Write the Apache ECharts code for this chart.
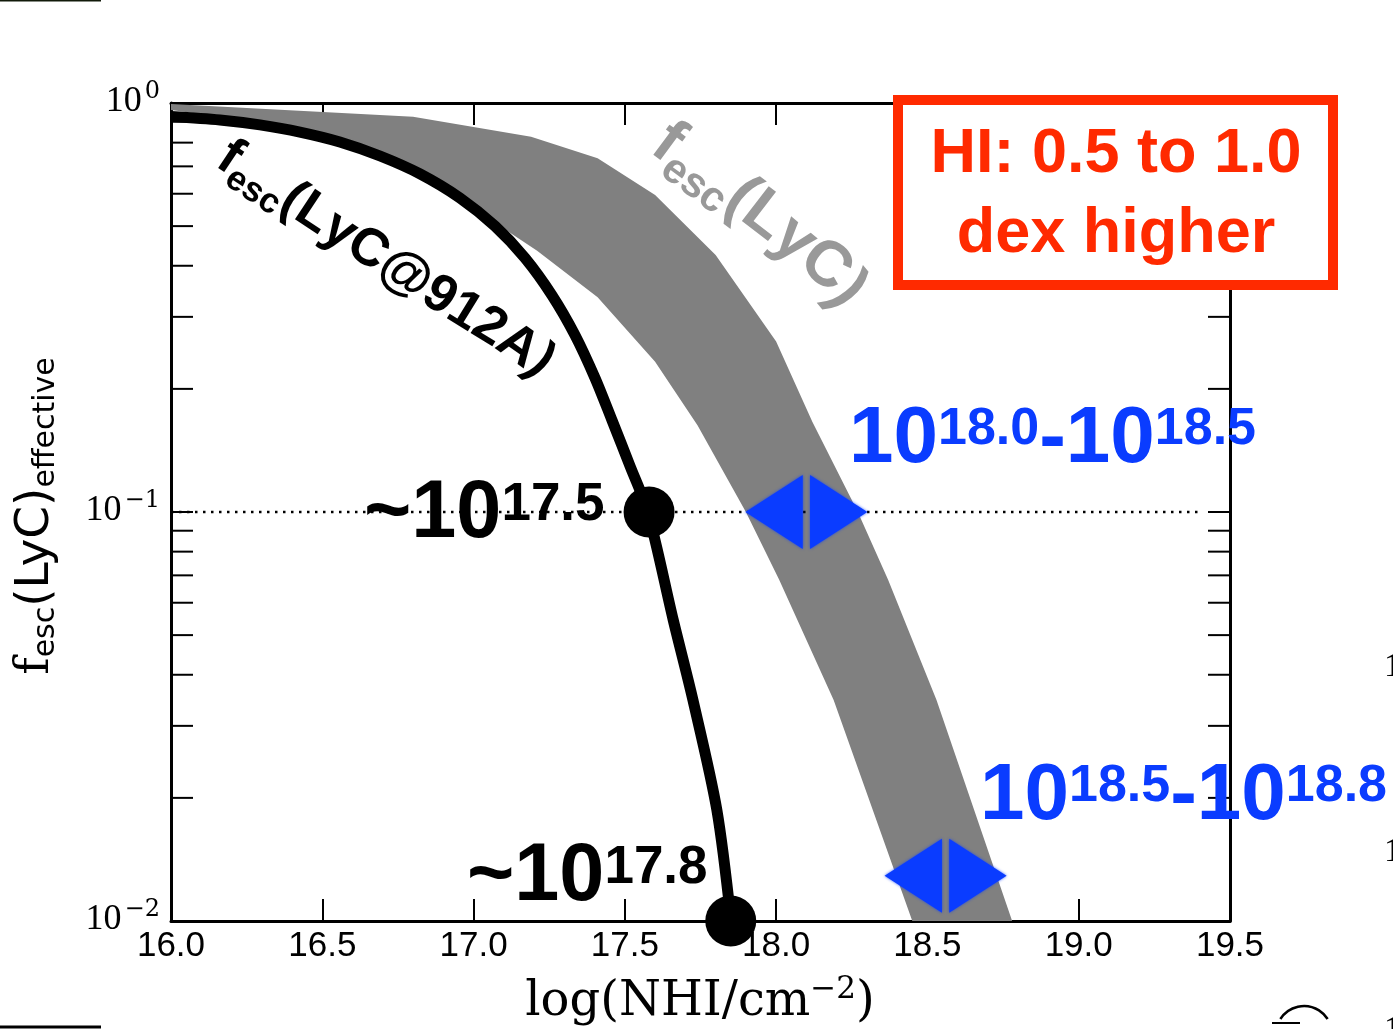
<!DOCTYPE html>
<html>
<head>
<meta charset="utf-8">
<script src="https://cdn.jsdelivr.net/npm/echarts@6/dist/echarts.min.js"></script>
<style>
  html, body { margin: 0; padding: 0; background: #ffffff; }
  #chart { width: 1393px; height: 1029px; }
</style>
</head>
<body>
<div id="chart"></div>
<script>
// Effective LyC escape fraction versus HI column density

// x axis: log10(N_HI / cm^-2)
const xTicks = [16.0, 16.5, 17.0, 17.5, 18.0, 18.5, 19.0, 19.5];
// y axis: labelled decades and all tick marks
const yDecades = [0.01, 0.1, 1];
const yTickMarks = [0.01, 0.02, 0.03, 0.04, 0.05, 0.06, 0.07, 0.08, 0.09,
                    0.1, 0.2, 0.3, 0.4, 0.5, 0.6, 0.7, 0.8, 0.9, 1];

// f_esc(LyC@912A)
const lyc912X = [16.000, 16.162, 16.294, 16.426, 16.558, 16.691, 16.823, 16.955, 17.071, 17.170,
                 17.259, 17.335, 17.401, 17.457, 17.517, 17.576, 17.660, 17.725, 17.804, 17.851];
const lyc912Y = [0.927, 0.909, 0.884, 0.849, 0.803, 0.742, 0.671, 0.586, 0.500, 0.418,
                 0.339, 0.271, 0.213, 0.168, 0.1296, 0.100, 0.0544, 0.0347, 0.0187, 0.010];

// f_esc(LyC) band: upper and lower envelopes
const bandUpperX = [16.00, 16.80, 17.19, 17.41, 17.60, 17.80, 18.00, 18.12, 18.27, 18.37, 18.53, 18.78];
const bandUpperY = [0.995, 0.926, 0.827, 0.733, 0.596, 0.425, 0.261, 0.166, 0.100, 0.0683, 0.0347, 0.010];
const bandLowerX = [16.00, 16.42, 16.65, 16.81, 16.89, 17.00, 17.21, 17.41, 17.60, 17.74, 17.90, 18.01, 18.19, 18.45];
const bandLowerY = [0.961, 0.874, 0.781, 0.694, 0.630, 0.552, 0.435, 0.335, 0.233, 0.163, 0.100, 0.0683, 0.0347, 0.010];

// column densities where f_esc(912A) drops to 10% and 1%
const markX = [17.58, 17.85];
const markY = [0.1, 0.01];
// the same escape fractions reached on the LyC band
const bandMarkX = [18.10, 18.56];
const bandMarkY = [0.1, 0.0129];

// 10% reference level
const refLevel = 0.1;
const refSpan = [16.0, 19.41];

const pairs = (xs, ys) => xs.map((x, i) => [x, ys[i]]);

// ---- text layout helpers ----
const mctx = document.createElement('canvas').getContext('2d');
function textWidth(t, font) { mctx.font = font; return mctx.measureText(t).width; }
function fontOf(s) { return (s.weight || 'normal') + ' ' + s.size + 'px ' + s.family; }

// a row of text pieces; rise moves a piece's middle upward
function textRow(x0, yc, segs, color, align) {
  const widths = segs.map(s => textWidth(s.t, fontOf(s)));
  const total = widths.reduce((a, b) => a + b, 0);
  let x = align === 'center' ? x0 - total / 2 : x0;
  const out = [];
  segs.forEach((s, i) => {
    out.push({
      type: 'text', silent: true, z: 20,
      x: x, y: yc - (s.rise || 0),
      style: { text: s.t, font: fontOf(s), fill: s.color || color, align: 'left', verticalAlign: 'middle' }
    });
    x += widths[i];
  });
  return out;
}

// power-of-ten annotation, exponent tops aligned with the digit tops
function powerLabel(x0, yc, parts, big, sup, color) {
  const segs = parts.map(p => p.sup
    ? { t: p.t, size: sup, family: '"Liberation Sans"', weight: 'bold', rise: 0.358 * (big - sup) }
    : { t: p.t, size: big, family: '"Liberation Sans"', weight: 'bold', rise: 0 });
  return textRow(x0, yc, segs, color, 'left');
}

// characters placed one by one along a polyline (text middle on the path)
function curvedText(path, start, pieces, color) {
  const cum = [0];
  for (let i = 1; i < path.length; i++) {
    cum.push(cum[i - 1] + Math.hypot(path[i][0] - path[i - 1][0], path[i][1] - path[i - 1][1]));
  }
  function at(s) {
    let i = 1;
    while (i < path.length - 1 && cum[i] < s) i++;
    const a = path[i - 1], b = path[i];
    const t = (s - cum[i - 1]) / (cum[i] - cum[i - 1]);
    return { x: a[0] + (b[0] - a[0]) * t, y: a[1] + (b[1] - a[1]) * t, ang: Math.atan2(b[1] - a[1], b[0] - a[0]) };
  }
  const out = [];
  let s = start;
  pieces.forEach(p => {
    const font = 'bold ' + p.size + 'px "Liberation Sans"';
    for (const ch of p.t) {
      const w = textWidth(ch, font);
      const q = at(s + w / 2);
      out.push({
        type: 'text', silent: true, z: 20,
        x: q.x, y: q.y, rotation: -q.ang,
        style: { text: ch, x: 0, y: p.dy || 0, font: font, fill: color, align: 'center', verticalAlign: 'middle' }
      });
      s += w;
    }
  });
  return out;
}

const chart = echarts.init(document.getElementById('chart'), null, { renderer: 'canvas', width: 1393, height: 1029 });

const xAxisBase = {
  type: 'value',
  min: xTicks[0],
  max: xTicks[xTicks.length - 1],
  interval: xTicks[1] - xTicks[0],
  axisLine: { show: true, onZero: false, lineStyle: { color: '#000', width: 3 } },
  axisTick: { show: true, inside: true, length: 22, lineStyle: { color: '#000', width: 2 } },
  splitLine: { show: false }
};
const yAxisBase = {
  type: 'log',
  logBase: 10,
  min: yDecades[0],
  max: yDecades[yDecades.length - 1],
  axisLine: { show: true, onZero: false, lineStyle: { color: '#000', width: 3 } },
  axisTick: { show: false },
  axisLabel: { show: false },
  splitLine: { show: false },
  minorTick: { show: false }
};

const graphics = [];

// blue column-density ranges
graphics.push(...powerLabel(849, 440, [{ t: '10' }, { t: '18.0', sup: true }, { t: '-' }, { t: '10' }, { t: '18.5', sup: true }], 80, 52, '#0a3cff'));
graphics.push(...powerLabel(980, 797, [{ t: '10' }, { t: '18.5', sup: true }, { t: '-' }, { t: '10' }, { t: '18.8', sup: true }], 80, 52, '#0a3cff'));
// black single values
graphics.push(...powerLabel(364, 515, [{ t: '~' }, { t: '10' }, { t: '17.5', sup: true }], 81, 53, '#000'));
graphics.push(...powerLabel(467, 878, [{ t: '~' }, { t: '10' }, { t: '17.8', sup: true }], 81, 53, '#000'));

// curve labels
graphics.push(...curvedText(
  [[222, 153], [300, 205], [380, 258], [445, 300], [500, 334], [540, 362], [565, 385]], 0,
  [{ t: 'f', size: 53 }, { t: 'esc', size: 35, dy: 15 }, { t: '(LyC@912A)', size: 53 }], '#000'));
graphics.push(...curvedText(
  [[659, 137], [720, 182], [780, 228], [830, 270], [866, 314], [884, 345]], 0,
  [{ t: 'f', size: 64 }, { t: 'esc', size: 42, dy: 18 }, { t: '(LyC)', size: 64 }], '#999999'));

// boxed note
graphics.push({
  type: 'rect', silent: true, z: 50,
  shape: { x: 898, y: 100, width: 435, height: 185 },
  style: { fill: '#ffffff', stroke: '#ff2a00', lineWidth: 10 }
});
graphics.push({
  type: 'text', silent: true, z: 51, x: 1116, y: 195,
  style: { text: 'HI: 0.5 to 1.0\ndex higher', font: 'bold 63px "Liberation Sans"', fill: '#ff2a00',
           align: 'center', verticalAlign: 'middle', lineHeight: 80 }
});

// x axis title
graphics.push(...textRow(700, 1003, [
  { t: 'log(NHI/cm', size: 48, family: '"DejaVu Serif"' },
  { t: '\u22122', size: 31, family: '"DejaVu Serif"', rise: 13 },
  { t: ')', size: 48, family: '"DejaVu Serif"' }
], '#000', 'center'));

// y axis title (rotated)
graphics.push({
  type: 'group', silent: true, x: 36, y: 516, rotation: Math.PI / 2,
  children: textRow(0, 0, [
    { t: 'f', size: 47, family: '"DejaVu Serif"' },
    { t: 'esc', size: 30, family: '"DejaVu Sans"', rise: -10 },
    { t: '(LyC)', size: 47, family: '"DejaVu Sans"' },
    { t: 'effective', size: 30, family: '"DejaVu Sans"', rise: -10 }
  ], '#000', 'center')
});

// neighbouring panel edges
graphics.push({ type: 'line', silent: true, shape: { x1: 0, y1: 0.5, x2: 101, y2: 0.5 }, style: { stroke: '#111a0a', lineWidth: 2 } });
graphics.push({ type: 'line', silent: true, shape: { x1: 0, y1: 1027, x2: 101, y2: 1027 }, style: { stroke: '#000', lineWidth: 3 } });
[667, 852, 1030].forEach(y => graphics.push({
  type: 'text', silent: true, x: 1384, y: y,
  style: { text: '1', font: '34px "Liberation Serif"', fill: '#000', align: 'left', verticalAlign: 'middle' }
}));
graphics.push({ type: 'arc', silent: true, shape: { cx: 1304, cy: 1034, r: 28, startAngle: -Math.PI * 0.82, endAngle: -Math.PI * 0.18 },
  style: { stroke: '#000', lineWidth: 2.5, fill: null } });
graphics.push({ type: 'line', silent: true, shape: { x1: 1272, y1: 1023, x2: 1300, y2: 1023 }, style: { stroke: '#000', lineWidth: 2 } });

const baseFont = '36px "Liberation Serif"';
const expFont = '24px "DejaVu Serif"';

chart.setOption({
  animation: false,
  backgroundColor: '#ffffff',
  grid: { left: 171, top: 103, right: 163, bottom: 108, containLabel: false },
  xAxis: [
    Object.assign({}, xAxisBase, {
      position: 'bottom',
      axisLabel: { show: true, color: '#000', fontSize: 35, fontFamily: '"Liberation Sans"', margin: 8,
                   showMinLabel: true, showMaxLabel: true, formatter: v => v.toFixed(1) }
    }),
    Object.assign({}, xAxisBase, { position: 'top', axisLabel: { show: false } })
  ],
  yAxis: [
    Object.assign({}, yAxisBase, { position: 'left' }),
    Object.assign({}, yAxisBase, { position: 'right' })
  ],
  series: [
    {
      // LyC band
      type: 'custom', silent: true, z: 1, clip: true,
      data: [[bandUpperX[0], bandUpperY[0]]],
      renderItem: function (params, api) {
        const pts = [];
        for (let i = 0; i < bandUpperX.length; i++) pts.push(api.coord([bandUpperX[i], bandUpperY[i]]));
        for (let i = bandLowerX.length - 1; i >= 0; i--) pts.push(api.coord([bandLowerX[i], bandLowerY[i]]));
        return { type: 'polygon', shape: { points: pts }, style: { fill: '#808080' } };
      }
    },
    {
      // 10% reference level
      type: 'line', silent: true, z: 2, symbol: 'none',
      data: [[refSpan[0], refLevel], [refSpan[1], refLevel]],
      lineStyle: { color: '#000', width: 2.5, type: [2.5, 5.5] }
    },
    {
      // f_esc(LyC@912A)
      type: 'line', silent: true, z: 3, symbol: 'none', smooth: 0.3,
      data: pairs(lyc912X, lyc912Y),
      lineStyle: { color: '#000', width: 11, cap: 'butt', join: 'round' }
    },
    {
      type: 'scatter', silent: true, z: 4, clip: false,
      symbol: 'path://M0,50L47,0L47,100ZM53,0L100,50L53,100Z',
      symbolSize: [122, 74],
      itemStyle: { color: '#0a3cff', opacity: 1, shadowBlur: 3, shadowColor: 'rgba(10,60,255,0.8)' },
      data: pairs(bandMarkX, bandMarkY)
    },
    {
      type: 'scatter', silent: true, z: 5, clip: false,
      symbol: 'circle', symbolSize: 51,
      itemStyle: { color: '#000', opacity: 1 },
      data: pairs(markX, markY)
    },
    {
      // y ticks inside on both sides, with 10^n labels at the decades
      type: 'custom', silent: true, z: 6, clip: false,
      data: yTickMarks.map(v => [xTicks[0], v]),
      renderItem: function (params, api) {
        const v = api.value(1);
        const L = api.coord([xTicks[0], v]);
        const R = api.coord([xTicks[xTicks.length - 1], v]);
        const children = [
          { type: 'line', shape: { x1: L[0], y1: L[1], x2: L[0] + 22, y2: L[1] }, style: { stroke: '#000', lineWidth: 2 } },
          { type: 'line', shape: { x1: R[0], y1: R[1], x2: R[0] - 22, y2: R[1] }, style: { stroke: '#000', lineWidth: 2 } }
        ];
        const isDecade = yDecades.some(d => Math.abs(d - v) < 1e-9);
        if (isDecade) {
          const e = Math.round(Math.log10(v));
          const expText = e < 0 ? '\u2212' + (-e) : String(e);
          const right = L[0] - 11;
          const expW = textWidth(expText, expFont);
          children.push({ type: 'text', style: { text: expText, x: right, y: L[1] - 11, font: expFont, fill: '#000', align: 'right', verticalAlign: 'middle' } });
          children.push({ type: 'text', style: { text: '10', x: right - expW - 3, y: L[1] - 1, font: baseFont, fill: '#000', align: 'right', verticalAlign: 'middle' } });
        }
        return { type: 'group', children: children };
      }
    }
  ],
  graphic: { elements: graphics }
});
</script>
</body>
</html>
